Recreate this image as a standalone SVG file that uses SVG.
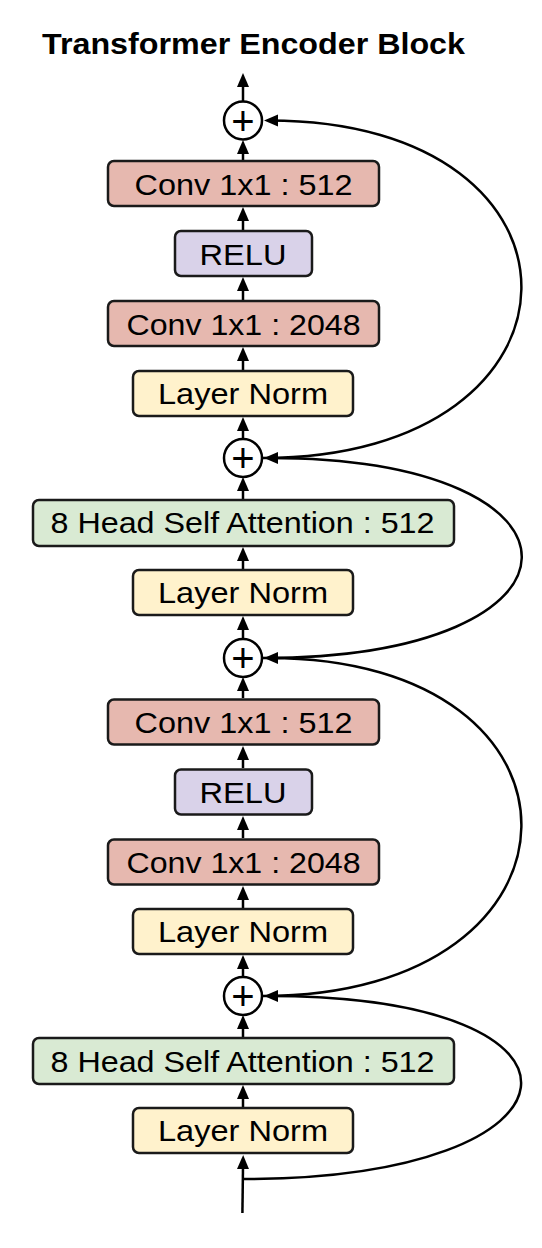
<svg xmlns="http://www.w3.org/2000/svg" width="542" height="1248" viewBox="0 0 542 1248">
<style>
.box{stroke:#1a1a1a;stroke-width:2.5}
.conv{fill:#e6b8af}
.relu{fill:#d9d2e9}
.ln{fill:#fff2cc}
.attn{fill:#d9ead3}
.lbl{font-family:"Liberation Sans",Arial,sans-serif;font-size:30px;fill:#000;text-anchor:middle}
.title{font-family:"Liberation Sans",Arial,sans-serif;font-size:30px;font-weight:bold;fill:#000}
.add{fill:#fff;stroke:#000;stroke-width:2.5}
.plus{font-family:"Liberation Sans",Arial,sans-serif;font-size:40px;fill:#000;text-anchor:middle}
.edge{fill:none;stroke:#000;stroke-width:2.5}
</style>
<defs>
<marker id="ah" markerUnits="userSpaceOnUse" markerWidth="16" markerHeight="14" viewBox="0 0 16 14" refX="9" refY="6" orient="auto">
<path d="M0,0 L14,6 L0,12 Z" fill="#000"/>
</marker>
</defs>
<rect width="542" height="1248" fill="#fff"/>
<text class="title" x="42" y="54" textLength="423" lengthAdjust="spacingAndGlyphs">Transformer Encoder Block</text>
<g id="connectors">
<path class="edge" d="M243,101 L243,78" marker-end="url(#ah)"/>
<path class="edge" d="M243,160 L243,145" marker-end="url(#ah)"/>
<path class="edge" d="M243,230 L243,212" marker-end="url(#ah)"/>
<path class="edge" d="M243,300 L243,282" marker-end="url(#ah)"/>
<path class="edge" d="M243,370 L243,352" marker-end="url(#ah)"/>
<path class="edge" d="M243,439 L243,422" marker-end="url(#ah)"/>
<path class="edge" d="M243,499 L243,482" marker-end="url(#ah)"/>
<path class="edge" d="M243,569 L243,552" marker-end="url(#ah)"/>
<path class="edge" d="M243,639 L243,621" marker-end="url(#ah)"/>
<path class="edge" d="M243,698 L243,682" marker-end="url(#ah)"/>
<path class="edge" d="M243,768 L243,751" marker-end="url(#ah)"/>
<path class="edge" d="M243,838 L243,821" marker-end="url(#ah)"/>
<path class="edge" d="M243,908 L243,891" marker-end="url(#ah)"/>
<path class="edge" d="M243,977 L243,960" marker-end="url(#ah)"/>
<path class="edge" d="M243,1037 L243,1020" marker-end="url(#ah)"/>
<path class="edge" d="M243,1107 L243,1090" marker-end="url(#ah)"/>
<path class="edge" d="M242.4,1213 L243.1,1160" marker-end="url(#ah)"/>
<path class="edge" d="M263,458 C604,458 609,120.5 269,120.5" marker-end="url(#ah)"/>
<path class="edge" d="M263,658 C605,658 609,458 269,458" marker-end="url(#ah)"/>
<path class="edge" d="M263,996 C604,996 609,658 269,658" marker-end="url(#ah)"/>
<path class="edge" d="M243.5,1179 C598,1179 620,996 269,996" marker-end="url(#ah)"/>
</g>
<g id="add1"><circle class="add" cx="243" cy="120.5" r="19"/><text class="plus" x="243" y="134.5">+</text></g>
<g id="conv512a"><rect class="box conv" x="108" y="161" width="271" height="45" rx="6"/><text class="lbl" x="243.5" y="194.5" textLength="218" lengthAdjust="spacingAndGlyphs">Conv 1x1 : 512</text></g>
<g id="relua"><rect class="box relu" x="175" y="231" width="137" height="45" rx="6"/><text class="lbl" x="243" y="264.5" textLength="87" lengthAdjust="spacingAndGlyphs">RELU</text></g>
<g id="conv2048a"><rect class="box conv" x="108" y="301" width="271" height="45" rx="6"/><text class="lbl" x="243.5" y="334.5" textLength="234" lengthAdjust="spacingAndGlyphs">Conv 1x1 : 2048</text></g>
<g id="ln1"><rect class="box ln" x="133" y="371" width="220" height="45" rx="6"/><text class="lbl" x="243" y="404" textLength="170" lengthAdjust="spacingAndGlyphs">Layer Norm</text></g>
<g id="add2"><circle class="add" cx="243" cy="458" r="19"/><text class="plus" x="243" y="472">+</text></g>
<g id="attn1"><rect class="box attn" x="33" y="500" width="421" height="46" rx="6"/><text class="lbl" x="242.5" y="533" textLength="384" lengthAdjust="spacingAndGlyphs">8 Head Self Attention : 512</text></g>
<g id="ln2"><rect class="box ln" x="133" y="570" width="220" height="45" rx="6"/><text class="lbl" x="243" y="603" textLength="170" lengthAdjust="spacingAndGlyphs">Layer Norm</text></g>
<g id="add3"><circle class="add" cx="243" cy="658" r="19"/><text class="plus" x="243" y="672">+</text></g>
<g id="conv512b"><rect class="box conv" x="108" y="699.5" width="271" height="45" rx="6"/><text class="lbl" x="243.5" y="733" textLength="218" lengthAdjust="spacingAndGlyphs">Conv 1x1 : 512</text></g>
<g id="relub"><rect class="box relu" x="175" y="769.5" width="137" height="45" rx="6"/><text class="lbl" x="243" y="803" textLength="87" lengthAdjust="spacingAndGlyphs">RELU</text></g>
<g id="conv2048b"><rect class="box conv" x="108" y="839.5" width="271" height="45" rx="6"/><text class="lbl" x="243.5" y="872.5" textLength="234" lengthAdjust="spacingAndGlyphs">Conv 1x1 : 2048</text></g>
<g id="ln3"><rect class="box ln" x="133" y="909" width="220" height="45" rx="6"/><text class="lbl" x="243" y="942" textLength="170" lengthAdjust="spacingAndGlyphs">Layer Norm</text></g>
<g id="add4"><circle class="add" cx="243" cy="996" r="19"/><text class="plus" x="243" y="1010">+</text></g>
<g id="attn2"><rect class="box attn" x="33" y="1038" width="421" height="46" rx="6"/><text class="lbl" x="242.5" y="1071.5" textLength="384" lengthAdjust="spacingAndGlyphs">8 Head Self Attention : 512</text></g>
<g id="ln4"><rect class="box ln" x="133" y="1108" width="220" height="45" rx="6"/><text class="lbl" x="243" y="1141" textLength="170" lengthAdjust="spacingAndGlyphs">Layer Norm</text></g>
</svg>
